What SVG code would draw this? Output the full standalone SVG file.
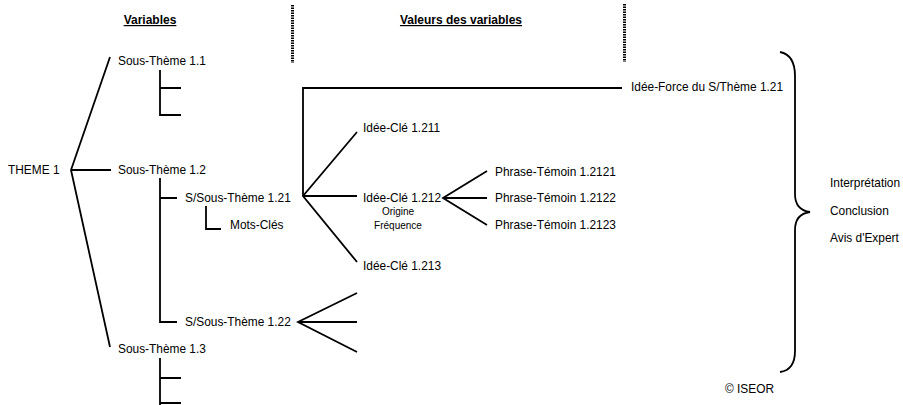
<svg xmlns="http://www.w3.org/2000/svg" width="903" height="405" viewBox="0 0 903 405">
<style>
text{font-family:"Liberation Sans",Arial,sans-serif;font-size:11.9px;fill:#000}
.h{font-weight:bold;text-decoration:underline;font-size:12px}
.s{font-size:10px}
.ln{stroke:#000;stroke-width:1.8;fill:none}
.dot{stroke:#000;stroke-width:3;stroke-dasharray:1.5 1;fill:none}
</style>
<rect width="903" height="405" fill="#fff"/>
<g id="headers">
<text class="h" x="150" y="24" text-anchor="middle">Variables</text>
<text class="h" x="461" y="24" text-anchor="middle">Valeurs des variables</text>
<line class="dot" x1="292.5" y1="5" x2="292.5" y2="63"/>
<line class="dot" x1="624.5" y1="4" x2="624.5" y2="62"/>
</g>
<g id="connectors">
<path class="ln" d="M110 57 L71 170 L110 347 M71 170 H111"/>
<path class="ln" d="M160 70 V115 H181 M160 88 H181"/>
<path class="ln" d="M160 178 V322 H177 M160 198 H177"/>
<path class="ln" d="M206 206 V229 H221"/>
<path class="ln" d="M160 358 V405 M160 378 H181 M160 403 H181"/>
<path class="ln" d="M303 196 V88 H622"/>
<path class="ln" d="M357 132 L303 196 L357 262 M303 196 H357"/>
<path class="ln" d="M487 171 L443 198 L487 225 M443 198 H487"/>
<path class="ln" d="M357 293 L298 322 L357 352 M298 322 H357"/>
<path class="ln" d="M780 52 Q795 55 795 76 V194 Q795 210 810 212 Q795 214 795 230 V351 Q795 370 780 372"/>
</g>
<g id="theme1"><text x="8" y="174">THEME 1</text></g>
<g id="st11"><text x="118" y="65">Sous-Thème 1.1</text></g>
<g id="st12"><text x="118" y="174">Sous-Thème 1.2</text></g>
<g id="sst121"><text x="185" y="202">S/Sous-Thème 1.21</text></g>
<g id="motscles"><text x="230" y="229">Mots-Clés</text></g>
<g id="sst122"><text x="185" y="326">S/Sous-Thème 1.22</text></g>
<g id="st13"><text x="118" y="353">Sous-Thème 1.3</text></g>
<g id="ideeforce"><text x="631" y="91">Idée-Force du S/Thème 1.21</text></g>
<g id="ic1211"><text x="363" y="132">Idée-Clé 1.211</text></g>
<g id="ic1212"><text x="363" y="202">Idée-Clé 1.212</text>
<text class="s" x="398" y="215" text-anchor="middle">Origine</text>
<text class="s" x="398" y="229" text-anchor="middle">Fréquence</text></g>
<g id="ic1213"><text x="363" y="270">Idée-Clé 1.213</text></g>
<g id="pt1"><text x="495" y="176">Phrase-Témoin 1.2121</text></g>
<g id="pt2"><text x="495" y="202">Phrase-Témoin 1.2122</text></g>
<g id="pt3"><text x="495" y="229">Phrase-Témoin 1.2123</text></g>
<g id="interp"><text x="830" y="187">Interprétation</text>
<text x="830" y="215">Conclusion</text>
<text x="830" y="242">Avis d'Expert</text></g>
<g id="copyright"><text x="725" y="393">© ISEOR</text></g>
</svg>
